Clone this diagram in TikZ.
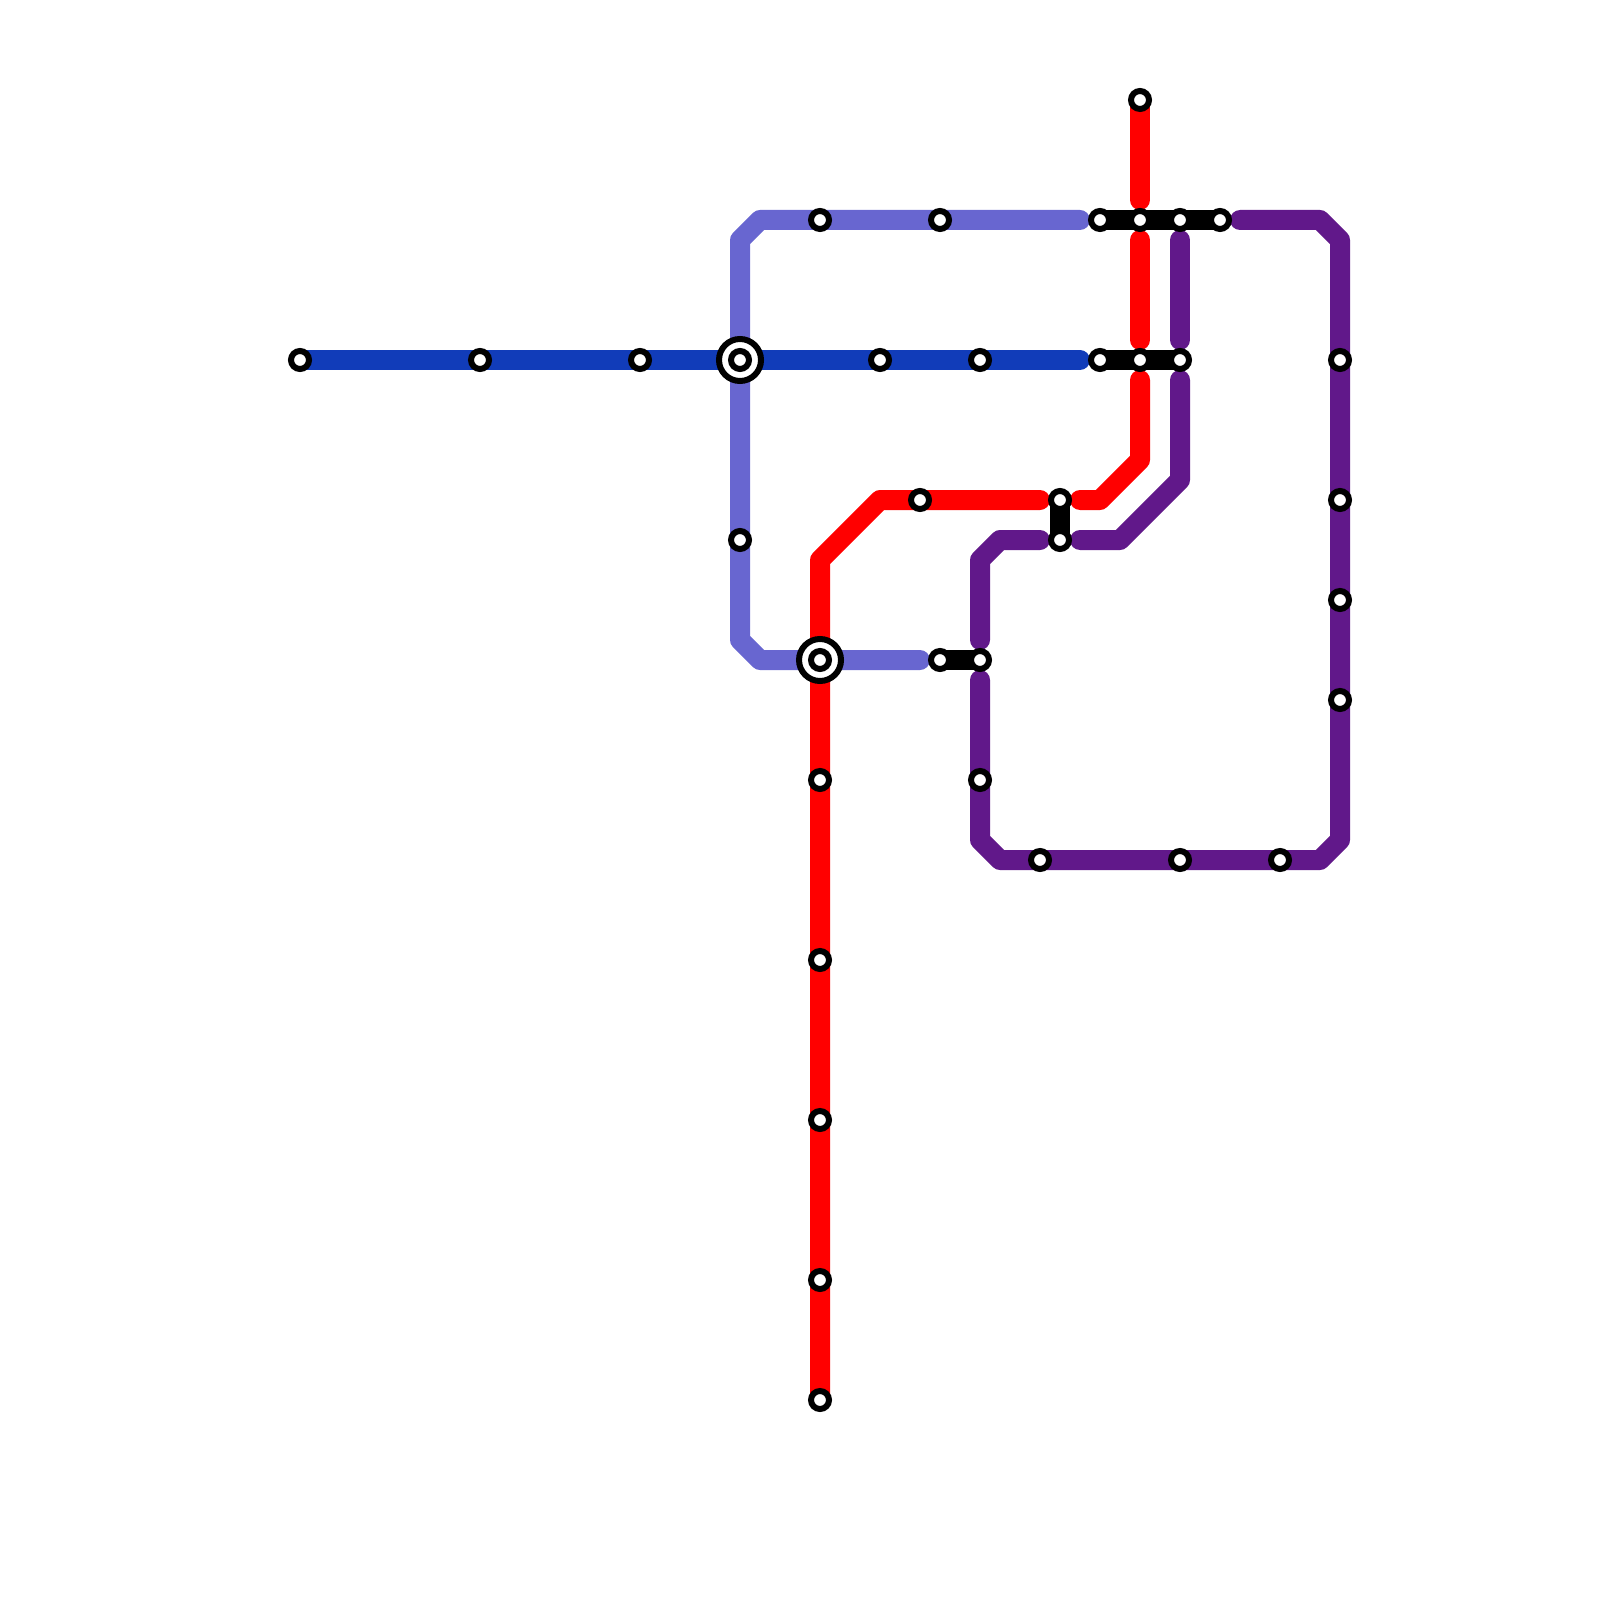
\documentclass[tikz,border=0pt]{standalone}
\usepackage{xcolor}
\usepackage{tikz}
\usetikzlibrary{backgrounds}
\definecolor{lineblue}{RGB}{17,60,185}
\definecolor{linepale}{RGB}{104,102,208}
\definecolor{linepurple}{RGB}{97,24,138}
\definecolor{linered}{RGB}{255,0,0}
\begin{document}
\begin{tikzpicture}[
  x=2mm, y=-2mm,
  stn/.style={circle, draw=black, fill=white, line width=0.6mm, minimum size=1.8mm, inner sep=0pt},
  hubring/.style={circle, draw=black, fill=white, line width=0.6mm, minimum size=4.2mm, inner sep=0pt},
  track/.style={line width=2mm, line cap=round, line join=round}
]
\useasboundingbox (0,0) rectangle (80,80);
% dark blue line
\node[stn] (bl1) at (15,18) {};
\node[stn] (bl2) at (24,18) {};
\node[stn] (bl3) at (32,18) {};
\node[hubring] (hubw) at (37,18) {};
\node[stn] (hubwin) at (37,18) {};
\node[stn] (bl4) at (44,18) {};
\node[stn] (bl5) at (49,18) {};
% pale line
\node[stn] (pa1) at (47,11) {};
\node[stn] (pa2) at (41,11) {};
\node[stn] (pa3) at (37,27) {};
\node[hubring] (hubs) at (41,33) {};
\node[stn] (hubsin) at (41,33) {};
% red line
\node[stn] (re1) at (57,5) {};
\node[stn] (re2) at (46,25) {};
\node[stn] (re3) at (41,39) {};
\node[stn] (re4) at (41,48) {};
\node[stn] (re5) at (41,56) {};
\node[stn] (re6) at (41,64) {};
\node[stn] (re7) at (41,70) {};
% purple line
\node[stn] (pu1) at (67,18) {};
\node[stn] (pu2) at (67,25) {};
\node[stn] (pu3) at (67,30) {};
\node[stn] (pu4) at (67,35) {};
\node[stn] (pu5) at (64,43) {};
\node[stn] (pu6) at (59,43) {};
\node[stn] (pu7) at (52,43) {};
\node[stn] (pu8) at (49,39) {};
% interchanges
\node[stn] (nt1) at (55,11) {};
\node[stn] (nt2) at (57,11) {};
\node[stn] (nt3) at (59,11) {};
\node[stn] (nt4) at (61,11) {};
\node[stn] (mi1) at (55,18) {};
\node[stn] (mi2) at (57,18) {};
\node[stn] (mi3) at (59,18) {};
\node[stn] (ce1) at (53,25) {};
\node[stn] (ce2) at (53,27) {};
\node[stn] (so1) at (47,33) {};
\node[stn] (so2) at (49,33) {};
% free ends and bends
\coordinate (blend) at (54,18);
\coordinate (paend) at (54,11);
\coordinate (pab1) at (38,11);
\coordinate (pab2) at (37,12);
\coordinate (pab3) at (37,32);
\coordinate (pab4) at (38,33);
\coordinate (paend2) at (46,33);
\coordinate (rea) at (57,10);
\coordinate (reb) at (57,12);
\coordinate (rec) at (57,17);
\coordinate (red) at (57,19);
\coordinate (reb1) at (57,23);
\coordinate (reb2) at (55,25);
\coordinate (ree) at (54,25);
\coordinate (ref) at (52,25);
\coordinate (reb3) at (44,25);
\coordinate (reb4) at (41,28);
\coordinate (pua) at (62,11);
\coordinate (pub1) at (66,11);
\coordinate (pub2) at (67,12);
\coordinate (pub3) at (67,42);
\coordinate (pub4) at (66,43);
\coordinate (pub5) at (50,43);
\coordinate (pub6) at (49,42);
\coordinate (pub) at (49,34);
\coordinate (puc) at (49,32);
\coordinate (pub7) at (49,28);
\coordinate (pub8) at (50,27);
\coordinate (pud) at (52,27);
\coordinate (pue) at (54,27);
\coordinate (pub9) at (56,27);
\coordinate (pub10) at (59,24);
\coordinate (puf) at (59,19);
\coordinate (pug) at (59,17);
\coordinate (puh) at (59,12);
\begin{scope}[on background layer]
\draw[track, linepale] (paend) -- (pab1) -- (pab2) -- (pab3) -- (pab4) -- (paend2);
\draw[track, lineblue] (bl1.center) -- (blend);
\draw[track, linered] (re1.center) -- (rea);
\draw[track, linered] (reb) -- (rec);
\draw[track, linered] (red) -- (reb1) -- (reb2) -- (ree);
\draw[track, linered] (ref) -- (reb3) -- (reb4) -- (re7.center);
\draw[track, linepurple] (pua) -- (pub1) -- (pub2) -- (pub3) -- (pub4) -- (pub5) -- (pub6) -- (pub);
\draw[track, linepurple] (puc) -- (pub7) -- (pub8) -- (pud);
\draw[track, linepurple] (pue) -- (pub9) -- (pub10) -- (puf);
\draw[track, linepurple] (pug) -- (puh);
\draw[track, black] (nt1.center) -- (nt4.center);
\draw[track, black] (mi1.center) -- (mi3.center);
\draw[track, black] (ce1.center) -- (ce2.center);
\draw[track, black] (so1.center) -- (so2.center);
\end{scope}
\end{tikzpicture}
\end{document}
